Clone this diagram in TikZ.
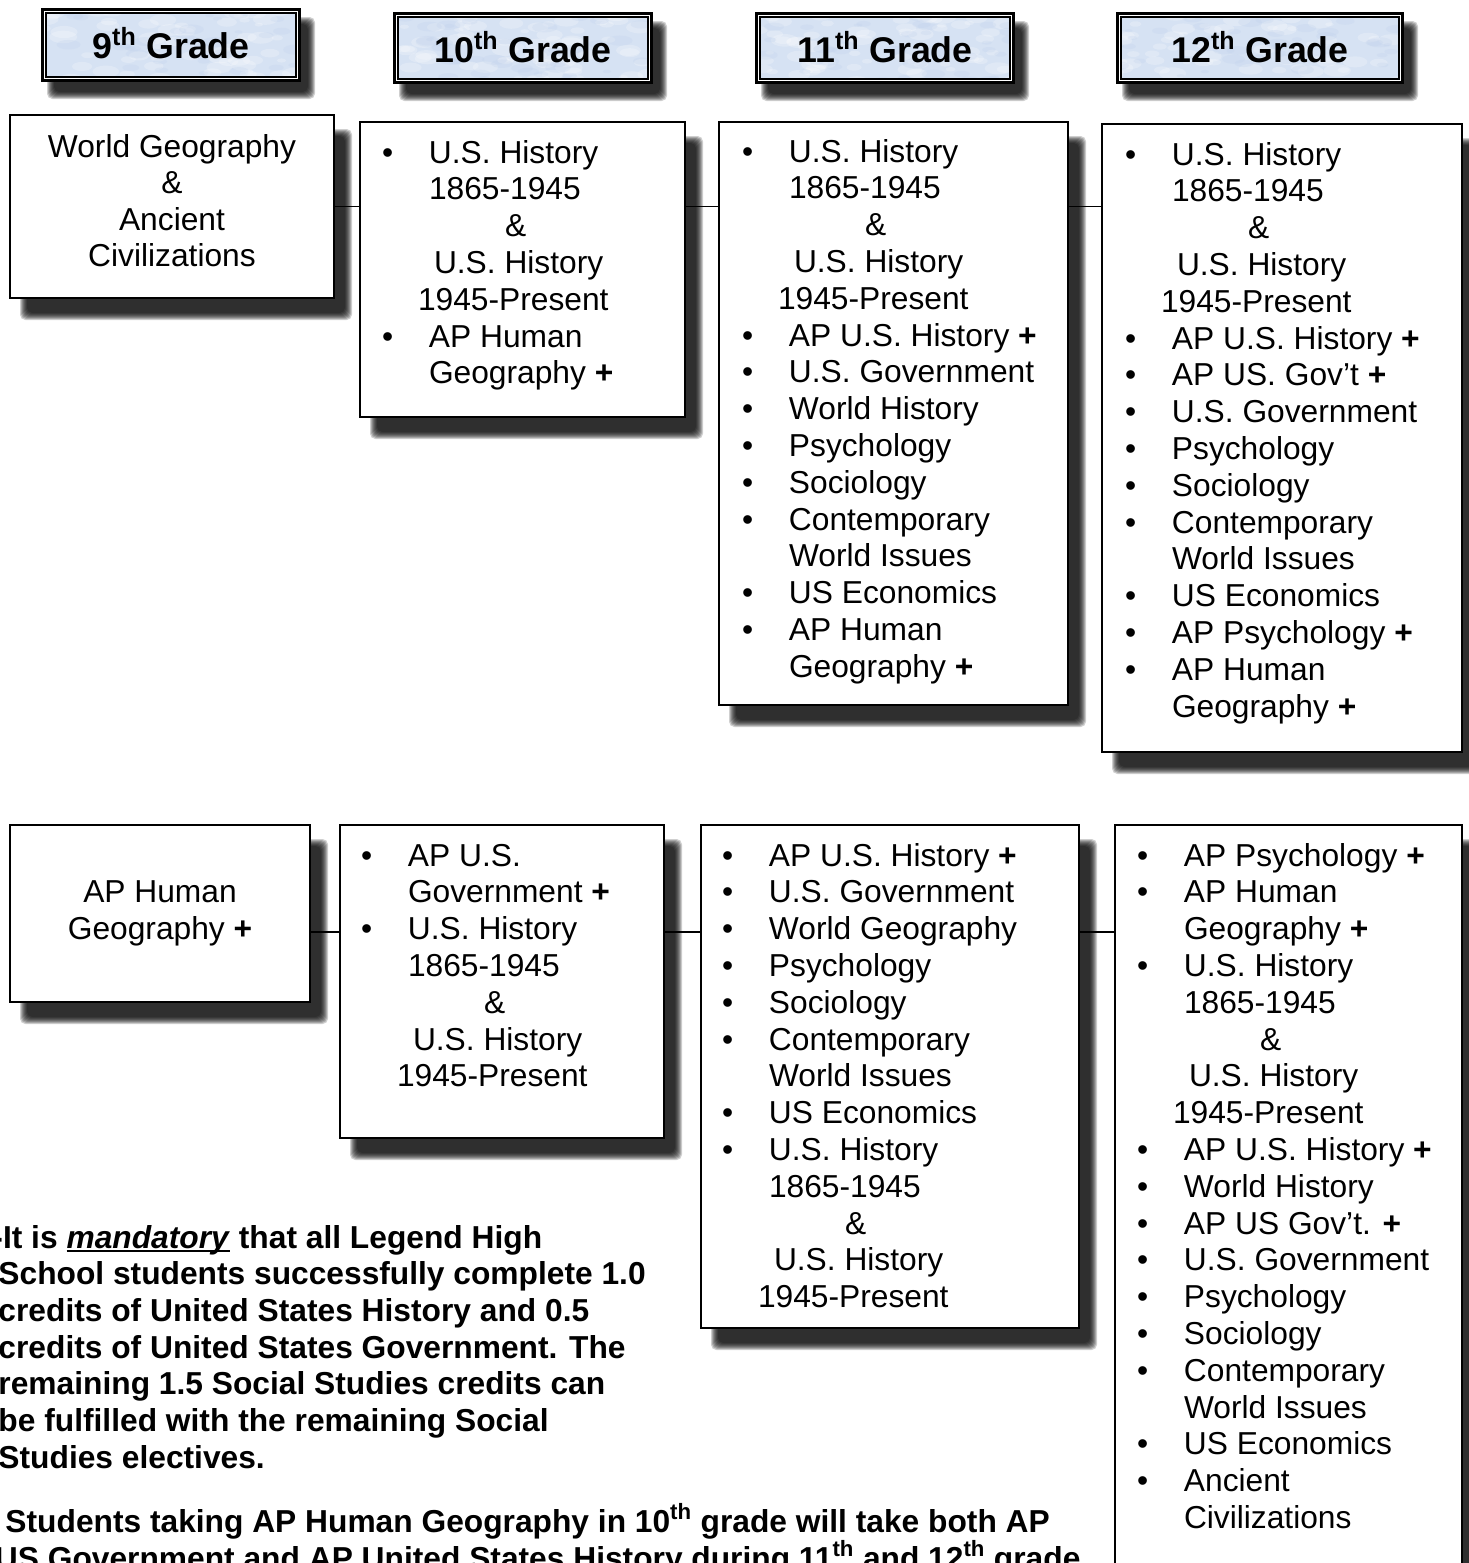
\documentclass[tikz,border=0pt]{standalone}
\usepackage{fontspec}
\setmainfont{Liberation Sans}
\newlength\px \setlength\px{0.75pt}
\newcommand\itm{\makebox[47\px][l]{•}}
\newcommand\cnt{\hspace*{47\px}}
\newcommand\hx[1]{\hspace*{#1\px}}
\newcommand\pls{\textbf{+}}
\newcommand\AMP{\hx{123}\&}
\newcommand\USH{\hx{52}U.S. History}
\newcommand\PRES{\hx{36}1945-Present}
\newcommand\mandul[1]{\setbox0\hbox{#1}\rlap{\rule[-4\px]{\wd0}{2.2\px}}\box0\relax}
\definecolor{hblue}{RGB}{214,226,243}
\definecolor{hblue2}{RGB}{192,209,236}
\tikzset{
  x=0.75pt, y=-0.75pt,
  body/.style={font=\fontsize{23.8pt}{27.6pt}\selectfont, inner sep=0pt, outer sep=0pt, anchor=base west},
  cbody/.style={body, anchor=base},
  note/.style={body, font=\fontsize{23.8pt}{27.6pt}\selectfont\bfseries},
  hdr/.style={font=\fontsize{26.8pt}{30pt}\selectfont\bfseries, inner sep=0pt, outer sep=0pt, anchor=base},
  hdrfill/.style={rectangle, draw=none, fill=hblue, inner sep=0pt, outer sep=0pt},
  cboxst/.style={rectangle, draw=black, line width=1.6pt, fill=white, inner sep=0pt, outer sep=0pt},
  conn/.style={draw=black, line width=1.3pt},
}
% shadow: x1 y1 x2 y2 dx dy
\newcommand\shadowr[6]{%
  \foreach \k in {0,...,7} {
    \fill[black, opacity=0.19, rounded corners=4pt] ({#1+#5-4+\k},{#2+#6-4+\k}) rectangle ({#3+#5+4-\k},{#4+#6+4-\k});
  }}
% grade header: name x1 y1 x2 y2 baseline text seed
\newcommand\gradebox[8]{%
  \shadowr{#2}{#3}{#4}{#5}{10}{13}
  \draw[line width=2.025pt, fill=white] ({#2+1.35},{#3+1.35}) rectangle ({#4-1.35},{#5-1.35});
  \node[hdrfill, minimum width={(#4-#2-9.7)*0.75pt}, minimum height={(#5-#3-9.7)*0.75pt}] (#1) at ({(#2+#4)/2},{(#3+#5)/2}) {};
  \begin{scope}
    \clip (#1.north west) rectangle (#1.south east);
    \pgfmathsetseed{#8}
    \foreach \q in {1,...,70} {
      \pgfmathsetmacro\rx{#2+rnd*(#4-#2)}
      \pgfmathsetmacro\ry{#3+rnd*(#5-#3)}
      \pgfmathsetmacro\ra{4+rnd*10}
      \fill[white, opacity=0.22] (\rx,\ry) ellipse ({\ra} and {\ra*0.45});
    }
    \foreach \q in {1,...,40} {
      \pgfmathsetmacro\rx{#2+rnd*(#4-#2)}
      \pgfmathsetmacro\ry{#3+rnd*(#5-#3)}
      \pgfmathsetmacro\ra{4+rnd*9}
      \fill[hblue2, opacity=0.25] (\rx,\ry) ellipse ({\ra} and {\ra*0.4});
    }
  \end{scope}
  \draw[line width=1.275pt] (#1.north west) rectangle (#1.south east);
  \node[hdr] (#1-t) at ({(#2+#4)/2},#6) {#7};
}
% content box: name x1 y1 x2 y2
\newcommand\cbox[5]{%
  \node[cboxst, minimum width={(#4-#2)*0.75pt}, minimum height={(#5-#3)*0.75pt}] (#1) at ({(#2+#4)/2},{(#3+#5)/2}) {};}
% left lines: name x y0 list
\newcommand\blines[4]{%
  \foreach \t [count=\i from 0] in {#4} {
    \node[body] (#1-\i) at (#2,{#3+\i*36.8}) {\t};
  }}
% centred lines: name x y0 step list
\newcommand\clines[5]{%
  \foreach \t [count=\i from 0] in {#5} {
    \node[cbody] (#1-\i) at (#2,{#3+\i*#4}) {\t};
  }}
\begin{document}
\begin{tikzpicture}
\useasboundingbox (0,0) rectangle (1469,1563);
\fill[white] (0,0) rectangle (1469,1563);
\begin{scope}
\clip (0,0) rectangle (1469,1563);

% shadows of the content boxes
\shadowr{10}{115}{334}{298}{14}{18}
\shadowr{360}{122}{685}{417}{14}{18}
\shadowr{719}{122}{1068}{705}{14}{18}
\shadowr{1102}{124}{1462}{752}{14}{18}
\shadowr{10}{825}{310}{1002}{14}{18}
\shadowr{340}{825}{664}{1138}{14}{18}
\shadowr{701}{825}{1079}{1328}{14}{18}
\shadowr{1115}{825}{1462}{1620}{14}{18}

% headers
\gradebox{g9}{41}{8}{301}{82}{58}{9\textsuperscript{th} Grade}{3}
\gradebox{g10}{393}{12}{653}{84}{62}{10\textsuperscript{th} Grade}{5}
\gradebox{g11}{755}{12}{1015}{84}{62}{11\textsuperscript{th} Grade}{8}
\gradebox{g12}{1116}{12}{1404}{84}{62}{12\textsuperscript{th} Grade}{11}

% boxes
\cbox{A}{10}{115}{334}{298}
\cbox{B}{360}{122}{685}{417}
\cbox{C}{719}{122}{1068}{705}
\cbox{D}{1102}{124}{1462}{752}
\cbox{E}{10}{825}{310}{1002}
\cbox{F}{340}{825}{664}{1138}
\cbox{G}{701}{825}{1079}{1328}
\cbox{H}{1115}{825}{1462}{1620}

% connectors
\draw[conn] (A.east) -- (A.east -| B.west);
\draw[conn] (A.east -| B.east) -- (A.east -| C.west);
\draw[conn] (A.east -| C.east) -- (A.east -| D.west);
\coordinate (r2) at (0,932);
\draw[conn] (r2 -| E.east) -- (r2 -| F.west);
\draw[conn] (r2 -| F.east) -- (r2 -| G.west);
\draw[conn] (r2 -| G.east) -- (r2 -| H.west);

% texts
\clines{tA}{172}{157}{36.5}{World Geography,\&,Ancient,Civilizations}
\blines{tB}{382}{163}{{\itm U.S. History},{\cnt 1865-1945},{\AMP},{\USH},{\PRES},{\itm AP Human},{\cnt Geography \pls}}
\blines{tC}{742}{162}{{\itm U.S. History},{\cnt 1865-1945},{\AMP},{\USH},{\PRES},{\itm AP U.S. History \pls},{\itm U.S. Government},{\itm World History},{\itm Psychology},{\itm Sociology},{\itm Contemporary},{\cnt World Issues},{\itm US Economics},{\itm AP Human},{\cnt Geography \pls}}
\blines{tD}{1125}{165}{{\itm U.S. History},{\cnt 1865-1945},{\AMP},{\USH},{\PRES},{\itm AP U.S. History \pls},{\itm AP US. Gov’t \pls},{\itm U.S. Government},{\itm Psychology},{\itm Sociology},{\itm Contemporary},{\cnt World Issues},{\itm US Economics},{\itm AP Psychology \pls},{\itm AP Human},{\cnt Geography \pls}}
\clines{tE}{160}{902}{37.5}{AP Human,{Geography \pls}}
\blines{tF}{361}{866}{{\itm AP U.S.},{\cnt Government \pls},{\itm U.S. History},{\cnt 1865-1945},{\AMP},{\USH},{\PRES}}
\blines{tG}{722}{866}{{\itm AP U.S. History \pls},{\itm U.S. Government},{\itm World Geography},{\itm Psychology},{\itm Sociology},{\itm Contemporary},{\cnt World Issues},{\itm US Economics},{\itm U.S. History},{\cnt 1865-1945},{\AMP},{\USH},{\PRES}}
\blines{tH}{1137}{866}{{\itm AP Psychology \pls},{\itm AP Human},{\cnt Geography \pls},{\itm U.S. History},{\cnt 1865-1945},{\AMP},{\USH},{\PRES},{\itm AP U.S. History \pls},{\itm World History},{\itm AP US Gov’t. \pls},{\itm U.S. Government},{\itm Psychology},{\itm Sociology},{\itm Contemporary},{\cnt World Issues},{\itm US Economics},{\itm Ancient},{\cnt Civilizations}}

% notes
\foreach \t [count=\i from 0] in {{\hx{-6}-It is \mandul{\textit{mandatory}} that all Legend High},{School students successfully complete 1.0},{credits of United States History and 0.5},{credits of United States Government. The},{remaining 1.5 Social Studies credits can},{be fulfilled with the remaining Social},{Studies electives.}} {
  \node[note] (n1-\i) at (-1.5,{1248+\i*36.7}) {\t};
}
\node[note] (n2-0) at (-1.5,1532) {\hx{7}Students taking AP Human Geography in 10\textsuperscript{th} grade will take both AP};
\node[note] (n2-1) at (-5,1569) {US Government and AP United States History during 11\textsuperscript{th} and 12\textsuperscript{th} grade};
\end{scope}
\end{tikzpicture}
\end{document}
